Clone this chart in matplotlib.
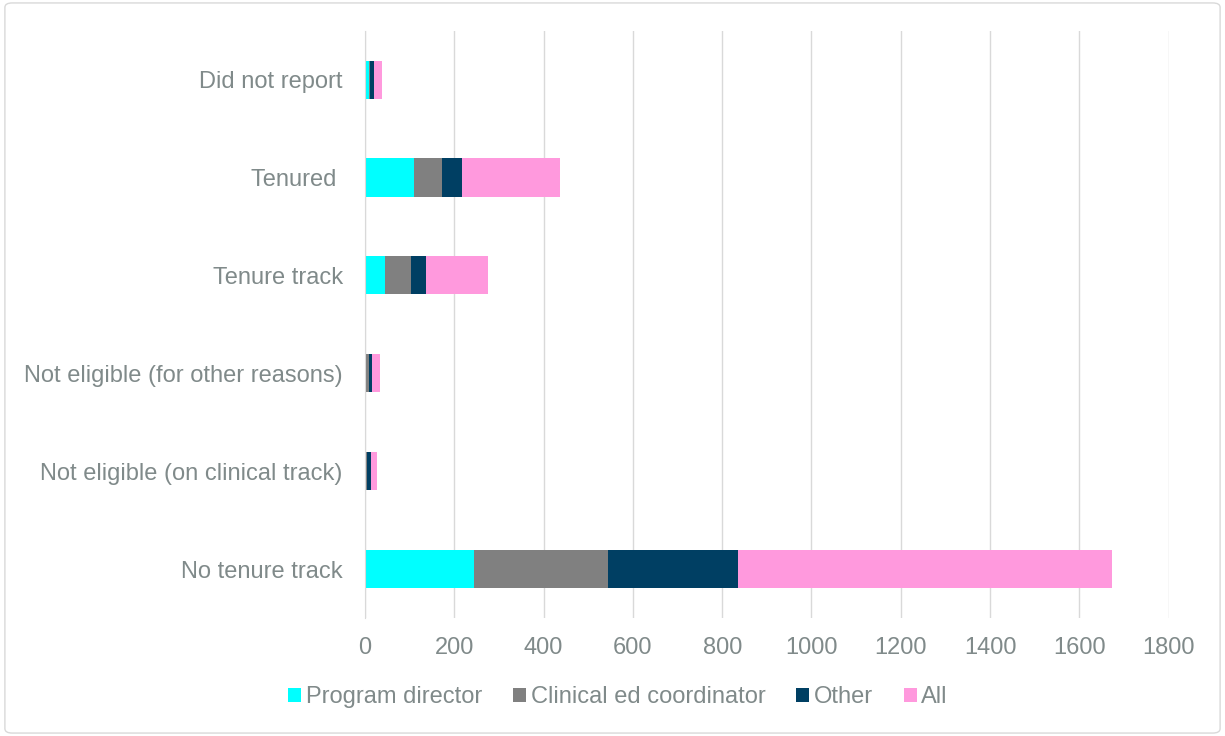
import matplotlib
matplotlib.use("Agg")
import matplotlib.pyplot as plt
from matplotlib.patches import FancyBboxPatch
import numpy as np

categories = ["No tenure track", "Not eligible (on clinical track)", "Not eligible (for other reasons)",
              "Tenure track", "Tenured ", "Did not report"]
series_names = ["Program director", "Clinical ed coordinator", "Other", "All"]
program_director = [243, 2, 3, 45, 110, 8]
clinical_ed = [302, 2, 5, 58, 62, 4]
other = [290, 9, 8, 34, 45, 7]
all_vals = [838, 14, 17, 138, 220, 20]
colors = ["#00FFFF", "#808080", "#003F63", "#FF99DD"]
xticks = [0, 200, 400, 600, 800, 1000, 1200, 1400, 1600, 1800]

plt.rcParams['font.family'] = ['Liberation Sans', 'DejaVu Sans']
fig = plt.figure(figsize=(12.25, 7.36), dpi=100)
ax = fig.add_axes([0.298, 0.1603, 0.656, 0.798])

y = np.arange(len(categories))
left = np.zeros(len(categories))
for name, vals, c in zip(series_names, [program_director, clinical_ed, other, all_vals], colors):
    ax.barh(y, vals, left=left, height=0.39, color=c, label=name, zorder=3)
    left = left + np.array(vals)

ax.set_xlim(0, 1800)
ax.set_ylim(-0.5, len(categories) - 0.5)
ax.set_xticks(xticks)
ax.set_yticks(y)
ax.set_yticklabels(categories)
ax.grid(axis='x', color='#D9D9D9', linewidth=1, zorder=0)
for s in ['top', 'right', 'bottom']:
    ax.spines[s].set_visible(False)
ax.spines['left'].set_color('#D9D9D9')
ax.spines['left'].set_zorder(4)
ax.tick_params(axis='both', length=0, labelsize=17, labelcolor='#808A8A')
ax.tick_params(axis='y', pad=16)
ax.tick_params(axis='x', pad=14)

handles, labels = ax.get_legend_handles_labels()
fig.legend(handles, labels, loc='center', bbox_to_anchor=(618/1225, 1 - 697/736), ncol=4,
           frameon=False, fontsize=17, labelcolor='#808A8A', handlelength=0.55, handleheight=0.55,
           handletextpad=0.2, columnspacing=1.3)

border = FancyBboxPatch((0.004, 0.004), 0.992, 0.992, boxstyle="round,pad=0,rounding_size=0.006",
                        transform=fig.transFigure, fill=False, edgecolor='#D9D9D9', linewidth=1)
fig.patches.append(border)

fig.savefig("out.png", dpi=100)
